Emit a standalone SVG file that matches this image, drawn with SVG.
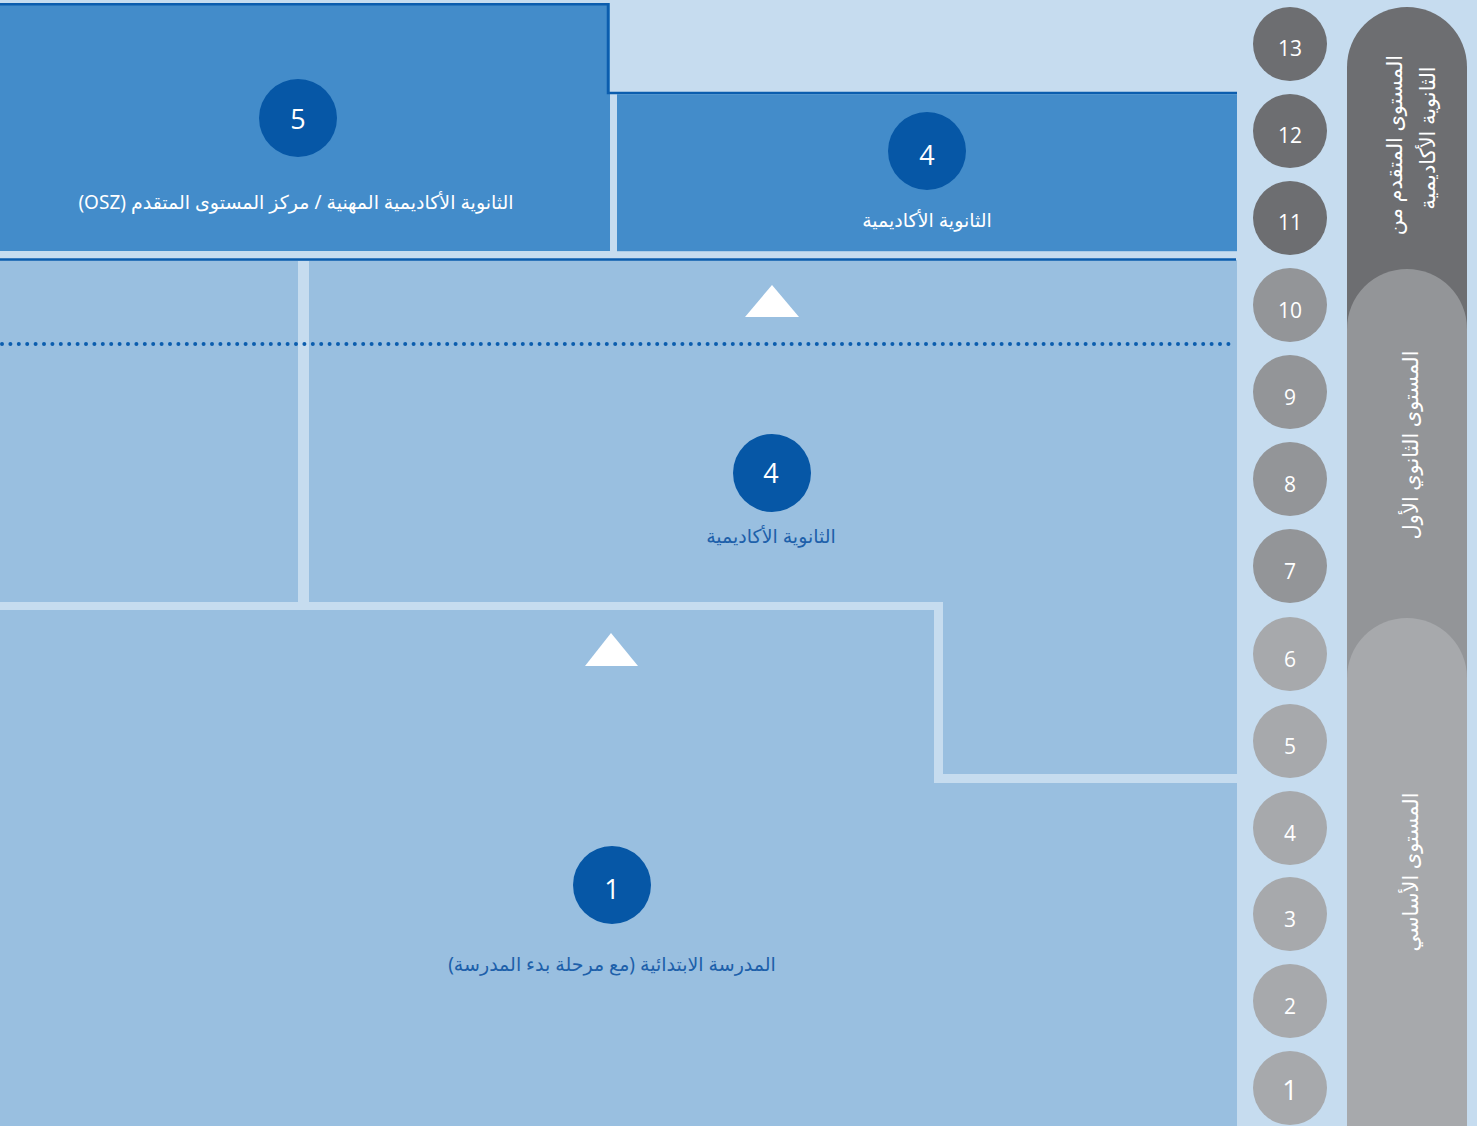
<svg xmlns="http://www.w3.org/2000/svg" width="1477" height="1126" viewBox="0 0 1477 1126">
<style>
.bg{fill:#C6DCEF}
.dark{fill:#438CCA}
.light{fill:#99BFE0}
.stripe{fill:#C6DCEF}
.border{stroke:#0B5DAE;stroke-width:2.5;fill:none}
.bc{fill:#0657A6}
.num{font-family:"Open Sans","Noto Sans","DejaVu Sans",sans-serif;fill:#fff;text-anchor:middle}
.lbl{font-family:"Noto Sans","DejaVu Sans",sans-serif;font-size:19px;text-anchor:middle;direction:rtl}
.vl{font-size:21px}
.w{fill:#fff}
.b{fill:#1D60AA}
.g1{fill:#6D6E71}
.g2{fill:#939598}
.g3{fill:#A7A9AC}
</style>
<rect class="bg" x="0" y="0" width="1477" height="1126"/>
<g id="region-bottom">
<rect class="light" x="0" y="260" width="1237" height="866"/>
<rect class="stripe" x="298" y="261" width="11" height="342"/>
<path class="stripe" d="M0 602 H943 V774 H1237 V783 H934 V610 H0 Z"/>
<line x1="0" y1="259.5" x2="1236" y2="259.5" class="border"/>
</g>
<g id="dotted">
<line x1="2" y1="344" x2="1236" y2="344" stroke="#0B5DAE" stroke-width="4" stroke-linecap="round" stroke-dasharray="0 8.4"/>
</g>
<g id="node-top-left">
<rect class="dark" x="0" y="3" width="610" height="248"/>
<path class="border" d="M0 4.2 H608 V93 H1237"/>
<circle class="bc" cx="298" cy="118" r="39"/>
<text class="num" x="298" y="129" font-size="27">5</text>
<text class="lbl w" x="296" y="209">الثانوية الأكاديمية المهنية / مركز المستوى المتقدم (OSZ)</text>
</g>
<g id="node-top-right">
<rect class="dark" x="617" y="94.2" width="620" height="157"/>
<circle class="bc" cx="927" cy="151" r="39"/>
<text class="num" x="927" y="165" font-size="27">4</text>
<text class="lbl w" x="927" y="227">الثانوية الأكاديمية</text>
</g>
<g id="node-middle">
<circle class="bc" cx="772" cy="473" r="39"/>
<text class="num" x="771" y="483" font-size="27">4</text>
<text class="lbl b" x="771" y="543">الثانوية الأكاديمية</text>
</g>
<g id="node-bottom">
<circle class="bc" cx="612" cy="885" r="39"/>
<text class="num" x="612" y="899" font-size="27">1</text>
<text class="lbl b" x="612" y="971">المدرسة الابتدائية (مع مرحلة بدء المدرسة)</text>
</g>
<g id="connectors">
<polygon class="w" points="772,285 799,317 745,317"/>
<polygon class="w" points="611,633 638,666 585,666"/>
</g>
<g id="pills">
<path class="g1" d="M1347 1126 V67 A60 60 0 0 1 1467 67 V1126 Z"/>
<path class="g2" d="M1347 1126 V329 A60 60 0 0 1 1467 329 V1126 Z"/>
<path class="g3" d="M1347 1126 V678 A60 60 0 0 1 1467 678 V1126 Z"/>
<text class="lbl vl w" transform="translate(1402 145) rotate(-90)">المستوى المتقدم من</text>
<text class="lbl vl w" transform="translate(1435 138) rotate(-90)">الثانوية الأكاديمية</text>
<text class="lbl vl w" transform="translate(1418 445) rotate(-90)">المستوى الثانوي الأول</text>
<text class="lbl vl w" transform="translate(1418 872) rotate(-90)">المستوى الأساسي</text>
</g>
<g id="grades">
<circle class="g1" cx="1290" cy="44" r="37"/><text class="num" x="1290" y="56" font-size="21">13</text>
<circle class="g1" cx="1290" cy="131" r="37"/><text class="num" x="1290" y="143" font-size="21">12</text>
<circle class="g1" cx="1290" cy="218" r="37"/><text class="num" x="1290" y="230" font-size="21">11</text>
<circle class="g2" cx="1290" cy="305" r="37"/><text class="num" x="1290" y="318" font-size="21">10</text>
<circle class="g2" cx="1290" cy="392" r="37"/><text class="num" x="1290" y="405" font-size="21">9</text>
<circle class="g2" cx="1290" cy="479" r="37"/><text class="num" x="1290" y="492" font-size="21">8</text>
<circle class="g2" cx="1290" cy="566" r="37"/><text class="num" x="1290" y="579" font-size="21">7</text>
<circle class="g3" cx="1290" cy="654" r="37"/><text class="num" x="1290" y="667" font-size="21">6</text>
<circle class="g3" cx="1290" cy="741" r="37"/><text class="num" x="1290" y="754" font-size="21">5</text>
<circle class="g3" cx="1290" cy="828" r="37"/><text class="num" x="1290" y="841" font-size="21">4</text>
<circle class="g3" cx="1290" cy="914" r="37"/><text class="num" x="1290" y="927" font-size="21">3</text>
<circle class="g3" cx="1290" cy="1001" r="37"/><text class="num" x="1290" y="1014" font-size="21">2</text>
<circle class="g3" cx="1290" cy="1088" r="37"/><text class="num" x="1290" y="1100" font-size="27">1</text>
</g>
</svg>
